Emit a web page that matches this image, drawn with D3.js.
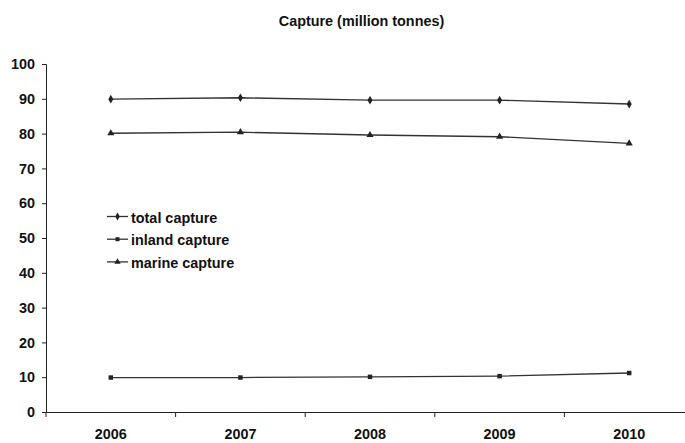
<!DOCTYPE html>
<html>
<head>
<meta charset="utf-8">
<script src="https://cdn.jsdelivr.net/npm/d3@7"></script>
<style>
  body { margin: 0; background: #fff; }
  svg { display: block; font-family: "Liberation Sans", Arial, sans-serif; font-weight: bold; }
  .axis path, .axis line { stroke: #222; }
  .axis text { font-size: 14.4px; font-weight: bold; fill: #111; font-family: "Liberation Sans", Arial, sans-serif; }
</style>
</head>
<body>
<svg id="chart" width="685" height="443"></svg>
<script>
// data
var years = ["2006", "2007", "2008", "2009", "2010"]
var totalCapture = [89.9, 90.3, 89.6, 89.6, 88.5]
var inlandCapture = [9.9, 9.9, 10.1, 10.3, 11.2]
var marineCapture = [80.1, 80.4, 79.6, 79.1, 77.2]
var yTicks = [0, 10, 20, 30, 40, 50, 60, 70, 80, 90, 100]

var series = [
  { name: "total capture", values: totalCapture, symbol: d3.symbolDiamond, size: 22 },
  { name: "inland capture", values: inlandCapture, symbol: d3.symbolSquare, size: 20 },
  { name: "marine capture", values: marineCapture, symbol: d3.symbolTriangle, size: 22 }
]

var svg = d3.select("#chart")

// scales
var x = d3.scaleBand().domain(years).range([46, 694]).padding(0)
var y = d3.scaleLinear().domain([0, 100]).range([412, 64])
var cx = function(i) { return x(years[i]) + x.bandwidth() / 2 }

// title
svg.append("text")
  .attr("x", 361.5)
  .attr("y", 26)
  .attr("text-anchor", "middle")
  .style("font-size", "14.4px")
  .style("fill", "#111")
  .text("Capture (million tonnes)")

// y axis
svg.append("g")
  .attr("class", "axis")
  .attr("transform", "translate(46,0)")
  .call(d3.axisLeft(y).tickValues(yTicks).tickSize(4).tickPadding(7))

// x axis (labels centred, ticks on band edges)
var xg = svg.append("g")
  .attr("class", "axis")
  .attr("transform", "translate(0,412)")
  .call(d3.axisBottom(x).tickSize(0).tickPadding(17))
xg.select(".domain").attr("d", "M46,0.5H700")
xg.selectAll("line.edge")
  .data(years)
  .enter()
  .append("line")
  .attr("class", "edge")
  .attr("x1", function(d) { return x(d) })
  .attr("x2", function(d) { return x(d) })
  .attr("y1", 0)
  .attr("y2", 5)

// lines
var line = d3.line()
  .x(function(d, i) { return cx(i) })
  .y(function(d) { return y(d) })

series.forEach(function(s) {
  svg.append("path")
    .attr("d", line(s.values))
    .attr("fill", "none")
    .attr("stroke", "#333")
    .attr("stroke-width", 1.3)

  svg.selectAll(null)
    .data(s.values)
    .enter()
    .append("path")
    .attr("d", d3.symbol().type(s.symbol).size(s.size))
    .attr("transform", function(d, i) { return "translate(" + cx(i) + "," + y(d) + ")" })
    .attr("fill", "#222")
})

// legend
var legend = svg.append("g").attr("transform", "translate(107,216.5)")
series.forEach(function(s, i) {
  var row = legend.append("g").attr("transform", "translate(0," + (i * 22.7) + ")")
  row.append("line")
    .attr("x1", 0).attr("x2", 21)
    .attr("y1", 0).attr("y2", 0)
    .attr("stroke", "#333")
    .attr("stroke-width", 1.3)
  row.append("path")
    .attr("d", d3.symbol().type(s.symbol).size(s.size * 0.8))
    .attr("transform", "translate(10.5,0)")
    .attr("fill", "#222")
  row.append("text")
    .attr("x", 24)
    .attr("y", 6)
    .style("font-size", "14.4px")
    .style("fill", "#111")
    .text(s.name)
})
</script>
</body>
</html>
